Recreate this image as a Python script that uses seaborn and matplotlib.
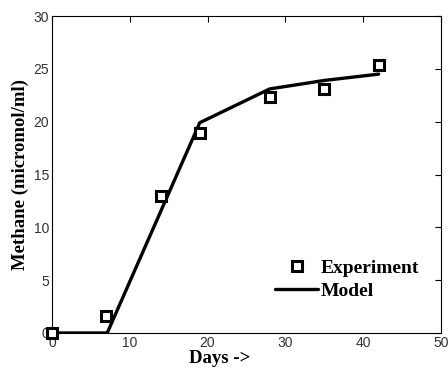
import matplotlib
matplotlib.use("Agg")
import matplotlib.pyplot as plt
import seaborn as sns
import pandas as pd

# experiment data
exp_days = [0, 7, 14, 19, 28, 35, 42]
exp_methane = [0.0, 1.6, 13.0, 18.9, 22.3, 23.1, 25.4]

# model curve
model_days = [0, 7.1, 19, 28, 35, 42]
model_methane = [0.0, 0.0, 19.9, 23.1, 23.9, 24.5]

exp = pd.DataFrame({'Days': exp_days, 'Methane': exp_methane})
model = pd.DataFrame({'Days': model_days, 'Methane': model_methane})

sns.set_style('white')
plt.rcParams['font.family'] = ['Liberation Sans', 'DejaVu Sans']

fig = plt.figure(figsize=(4.48, 3.69), dpi=100)
ax = fig.add_axes([0.116, 0.0976, 0.868, 0.859])

sns.lineplot(data=model, x='Days', y='Methane', ax=ax, color='black',
             linewidth=2.4, label='Model', sort=False, zorder=2)
ax.plot(exp.Days, exp.Methane, linestyle='none', marker='s', markersize=6.5,
        markerfacecolor='white', markeredgecolor='black', markeredgewidth=2.2,
        label='Experiment', zorder=3, clip_on=False)

ax.set_xlim(0, 50)
ax.set_ylim(0, 30)
ax.set_xticks(range(0, 51, 10))
ax.set_yticks(range(0, 31, 5))
ax.tick_params(direction='in', top=True, right=True, length=4, width=0.8,
               labelsize=10, colors='black', labelcolor='#333333', pad=2)
for s in ax.spines.values():
    s.set_color('black')
    s.set_linewidth(0.8)

serif = {'family': 'Liberation Serif', 'weight': 'bold', 'size': 13.5,
         'color': 'black'}
ax.set_xlabel('Days ->', fontdict=serif)
ax.xaxis.set_label_coords(0.431, -0.054)
ax.set_ylabel('Methane (micromol/ml)', fontdict=serif, labelpad=3)

h, l = ax.get_legend_handles_labels()
order = [l.index('Experiment'), l.index('Model')]
leg = ax.legend([h[i] for i in order], [l[i] for i in order],
                loc='lower right', bbox_to_anchor=(0.99, 0.05), frameon=False,
                prop={'family': 'Liberation Serif', 'weight': 'bold', 'size': 14},
                handlelength=2.2, handletextpad=0.15, labelspacing=0.25)
for t in leg.get_texts():
    t.set_color('black')

fig.savefig('out.png', dpi=100)
